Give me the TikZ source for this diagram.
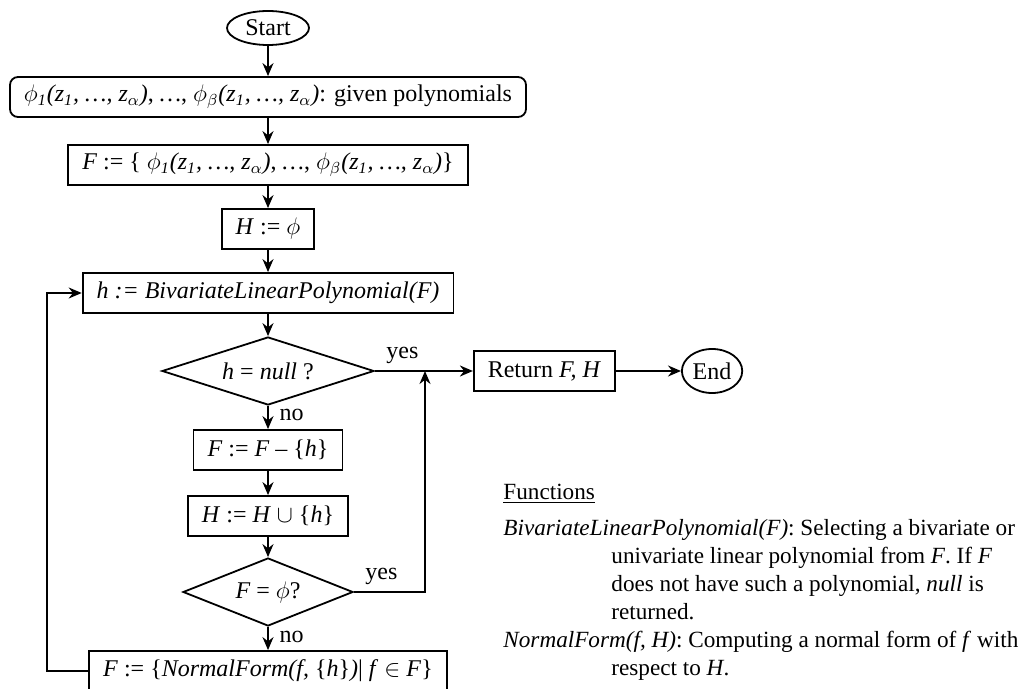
\documentclass[tikz,border=0pt]{standalone}
\usepackage{fontspec}
\setmainfont{Liberation Serif}
\usetikzlibrary{
	arrows.meta,
	positioning,
	shapes.geometric
}

\newcommand{\zvars}{\textit{(z\textsubscript{1}, \ldots, z\textsubscript{$\alpha$})}}

\begin{document}
\begin{tikzpicture}[
		x=0.5pt, y=-0.5pt,
		font=\fontsize{12}{14}\selectfont,
		terminal/.style={draw, ellipse, line width=0.9pt, inner sep=1pt},
		proc/.style={draw, line width=0.9pt, minimum height=20pt, inner xsep=7pt, inner ysep=2pt},
		decision/.style={draw, diamond, aspect=3, inner sep=0pt, line width=0.9pt, minimum height=34pt},
		arrow/.style={-{Stealth[length=6.5pt,width=5.5pt]}, line width=0.9pt}
		]
		\useasboundingbox (0,0) rectangle (1032,689);
		
		% =========================
		% Main column
		% =========================
		\node[terminal, minimum width=41pt, minimum height=17pt] (start) at (268,28) {Start};
		\node[proc, rounded corners=4pt] (given) at (268,97) {%
			$\phi$\textsubscript{\textit{1}}\zvars, \textit{\ldots}, $\phi$\textsubscript{$\beta$}\zvars: given polynomials};
		\node[proc] (initf) at (268,165) {%
			\textit{F} := \{ $\phi$\textsubscript{\textit{1}}\zvars, \textit{\ldots}, $\phi$\textsubscript{$\beta$}\zvars\}};
		\node[proc] (inith) at (268,229) {\textit{H} := $\phi$};
		\node[proc] (pick) at (268,293) {\textit{h := BivariateLinearPolynomial(F)}};
		\node[decision, minimum width=106pt] (isnull) at (268,371) {\textit{h} = \textit{null} ?};
		\node[proc] (remove) at (268,450) {\textit{F} := \textit{F} -- \{\textit{h}\}};
		\node[proc] (addh) at (268,516) {\textit{H} := \textit{H} $\cup$ \{\textit{h}\}};
		\node[decision, minimum width=85pt] (isempty) at (268,592) {\textit{F} = $\phi$?};
		\node[proc] (reduce) at (268,671) {%
			\textit{F} := \{\textit{NormalForm(f,} \{\textit{h}\}\textit{)}| \textit{f} $\in$ \textit{F}\}};
		
		% =========================
		% Exit
		% =========================
		\node[proc, right=49pt of isnull] (ret) {Return \textit{F, H}};
		\node[terminal, minimum width=30pt, minimum height=22pt, right=32.5pt of ret] (end) {End};
		\coordinate (merge) at (425,0 |- isnull.east);
		
		% =========================
		% Arrows
		% =========================
		\draw[arrow] (start) -- (given);
		\draw[arrow] (given) -- (initf);
		\draw[arrow] (initf) -- (inith);
		\draw[arrow] (inith) -- (pick);
		\draw[arrow] (pick) -- (isnull);
		\draw[arrow] (isnull) -- node[pos=0.4, right=2pt] {no} (remove);
		\draw[arrow] (remove) -- (addh);
		\draw[arrow] (addh) -- (isempty);
		\draw[arrow] (isempty) -- node[pos=0.45, right=2pt] {no} (reduce);
		
		\draw[arrow] (isnull.east) node[above right=0pt and 2pt] {yes} -- (ret);
		\draw[arrow] (ret) -- (end);
		\draw[arrow] (isempty.east) node[above right=0pt and 2pt] {yes} -| (merge);
		\draw[arrow] (reduce.west) -- ++(-20.5pt,0) |- (pick.west);
		
		% =========================
		% Legend
		% =========================
		\node[align=left, anchor=north west, inner sep=0pt, font=\fontsize{11.6}{14}\selectfont] (funcs) at (503,484) {%
			\underline{Functions}\\[4pt]
			\textit{BivariateLinearPolynomial(F)}: Selecting a bivariate or\\
			\hspace*{54pt}univariate linear polynomial from \textit{F}. If \textit{F}\\
			\hspace*{54pt}does not have such a polynomial, \textit{null} is\\
			\hspace*{54pt}returned.\\
			\textit{NormalForm(f, H)}: Computing a normal form of \textit{f} with\\
			\hspace*{54pt}respect to \textit{H}.
		};
		
	\end{tikzpicture}
\end{document}
